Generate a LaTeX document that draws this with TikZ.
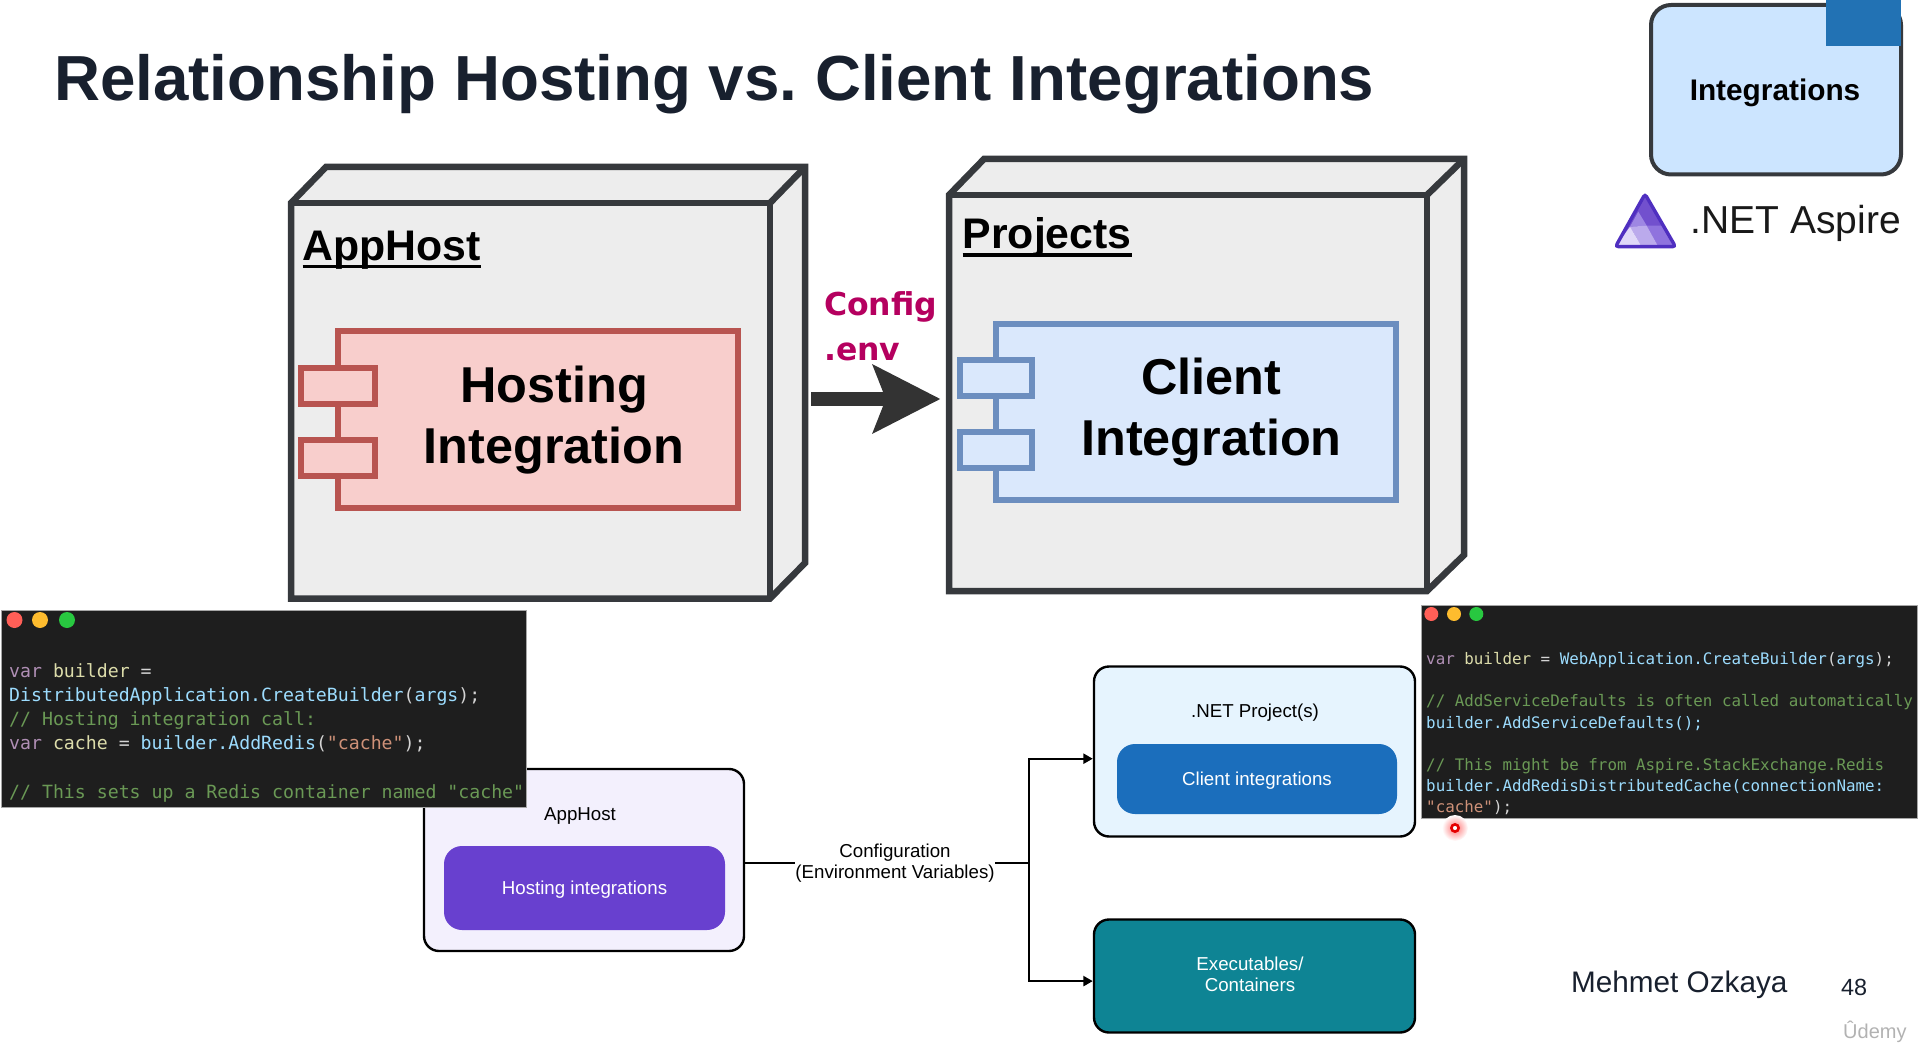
\documentclass[tikz,border=0pt]{standalone}
\usepackage{fontspec}
\setmainfont{Liberation Sans}
\setmonofont{DejaVu Sans Mono}
\newfontfamily\configfont{DejaVu Sans}
\usetikzlibrary{arrows.meta}
\frenchspacing

\definecolor{cubeline}{HTML}{36393D}
\definecolor{redline}{HTML}{B85450}
\definecolor{redfill}{HTML}{F8CECC}
\definecolor{blueline}{HTML}{6C8EBF}
\definecolor{bluefill}{HTML}{DAE8FC}
\definecolor{titleink}{HTML}{18202E}
\definecolor{legendfill}{HTML}{CCE5FF}
\definecolor{hostfill}{HTML}{F3F0FD}
\definecolor{netfill}{HTML}{E6F4FE}
\definecolor{codebg}{HTML}{1E1E1E}
\definecolor{codekw}{HTML}{B08FB5}
\definecolor{codevar}{HTML}{DCDCAA}
\definecolor{codeid}{HTML}{9CDCFE}
\definecolor{codecom}{HTML}{6A9955}
\definecolor{codestr}{HTML}{CE9178}
\definecolor{codepun}{HTML}{D4D4D4}

\newcommand{\kw}[1]{\textcolor{codekw}{#1}}
\newcommand{\vr}[1]{\textcolor{codevar}{#1}}
\newcommand{\cid}[1]{\textcolor{codeid}{#1}}
\newcommand{\com}[1]{\textcolor{codecom}{#1}}
\newcommand{\str}[1]{\textcolor{codestr}{#1}}
\newcommand{\pun}[1]{\textcolor{codepun}{#1}}
\newcommand{\heading}[1]{\setbox0=\hbox{#1}\rlap{\rule[-7.6pt]{\wd0}{3.3pt}}\box0}

\begin{document}
\begin{tikzpicture}[x=1pt,y=-1pt,
  cube/.style={draw=cubeline,line width=6.5pt,line join=miter},
  redpart/.style={draw=redline,fill=redfill,line width=6pt},
  bluepart/.style={draw=blueline,fill=bluefill,line width=6pt},
  txt/.style={inner sep=0pt,anchor=base west},
  ctr/.style={inner sep=0pt,anchor=base,align=center},
  partfont/.style={font=\fontsize{50.4}{61}\selectfont\bfseries},
  headfont/.style={font=\fontsize{42.8}{50}\selectfont\bfseries},
  small/.style={font=\fontsize{18.7}{21}\selectfont},
  panel/.style={draw=black,line width=2.4pt,rounded corners=15pt,inner sep=0pt},
  inner/.style={rounded corners=18pt,inner sep=0pt,text=white,text depth=0pt},
  codepanel/.style={draw=gray!70,line width=.8pt,fill=codebg,inner sep=0pt},
  codeA/.style={txt,font=\fontsize{18.2}{21}\selectfont\ttfamily},
  codeB/.style={txt,font=\fontsize{15.85}{19}\selectfont\ttfamily},
  link/.style={draw=black,line width=2.4pt},
  linkarrow/.style={link,-{Triangle[length=9.5pt,width=10pt]}},
]
\useasboundingbox (0,0) rectangle (1919,1048);

% title
\node[txt,text=titleink,font=\fontsize{63.7}{70}\selectfont\bfseries] (title) at (54,100.5) {Relationship Hosting vs. Client Integrations};

% legend, top right
\draw[draw=cubeline,line width=4pt,fill=legendfill,rounded corners=20pt] (1651,5) rectangle (1901,174.5);
\fill[fill={rgb,255:red,34;green,114;blue,180}] (1826,0) rectangle (1901,45.7);
\node[ctr,font=\fontsize{29.8}{34}\selectfont\bfseries] (legend) at (1775,101) {Integrations};

\begin{scope}
\clip[rounded corners=3pt] (1645,194)--(1615.5,246.7)--(1675.5,246.7)--cycle;
\fill[fill={rgb,255:red,114;green,80;blue,206}] (1610,190) rectangle (1680,250);
\fill[fill={rgb,255:red,158;green,135;blue,227}] (1638.3,211.7)--(1646.7,225.7)--(1630,226.7)--cycle;
\fill[fill={rgb,255:red,143;green,115;blue,222}] (1646.7,225.7)--(1665,225.7)--(1675.7,246.7)--(1658.3,246.7)--cycle;
\fill[fill={rgb,255:red,187;green,170;blue,236}] (1630,226.7)--(1646.7,225.7)--(1658.3,246.7)--(1641.7,246.7)--cycle;
\fill[fill={rgb,255:red,224;green,216;blue,248}] (1630,226.7)--(1641.7,246.7)--(1615.5,246.7)--cycle;
\end{scope}
\draw[draw={rgb,255:red,79;green,47;blue,192},line width=3.4pt,rounded corners=3pt] (1645,194)--(1615.5,246.7)--(1675.5,246.7)--cycle;
\node[txt,font=\fontsize{39}{44}\selectfont,text=black!90] (aspire) at (1690.5,233.5) {.NET Aspire};

% AppHost cube
\draw[cube,fill=black!7] (291,203)--(326,167)--(805,167)--(805,563)--(770,598.5)--(291,598.5)--cycle;
\draw[cube] (291,203)--(770,203)--(770,598.5);
\draw[cube] (770,203)--(805,167);
\node[txt,headfont] (apphost) at (302.5,260.5) {\heading{AppHost}};

\draw[redpart] (338,331.5) rectangle (738,508);
\draw[redpart] (301,368) rectangle (375,404);
\draw[redpart] (301,439.5) rectangle (375,476);
\node[ctr,partfont] (hosting) at (554,463) {Hosting\\Integration};

% Projects cube
\draw[cube,fill=black!7] (949,195)--(984,159)--(1464,159)--(1464,555)--(1427,591)--(949,591)--cycle;
\draw[cube] (949,195)--(1427,195)--(1427,591);
\draw[cube] (1427,195)--(1464,159);
\node[txt,headfont] (projects) at (962.5,249) {\heading{Projects}};

\draw[bluepart] (995.5,324) rectangle (1395.5,500);
\draw[bluepart] (959.5,360) rectangle (1032,396);
\draw[bluepart] (959.5,432) rectangle (1032,468);
\node[ctr,partfont] (client) at (1211.5,455) {Client\\Integration};

% arrow between the cubes
\node[txt,font=\fontsize{31.5}{36}\selectfont\bfseries\configfont,text={rgb,255:red,181;green,0;blue,95}] (config) at (824,316) {Config};
\node[txt,font=\fontsize{31.5}{36}\selectfont\bfseries\configfont,text={rgb,255:red,181;green,0;blue,95}] (env) at (824,360) {.env};
\coordinate (flowstart) at (811,399);
\coordinate (flowend) at (940.5,399);
\draw[draw=black!80,line width=14pt,-{Stealth[length=67pt,width=67pt,inset=12.4pt]}] (flowstart) -- (flowend);

% lower diagram
\node[panel,fill=hostfill,minimum width=320pt,minimum height=182pt] (hostbox) at (584,860) {};
\node[ctr,small] (hostname) at (580,820) {AppHost};
\node[inner,fill={rgb,255:red,104;green,64;blue,207},small,minimum width=281pt,minimum height=84pt] (hostint) at (584.5,888) {Hosting integrations};

\node[panel,fill=netfill,minimum width=321pt,minimum height=170pt] (netbox) at (1254.5,751.5) {};
\node[ctr,small] (netname) at (1255,717) {.NET Project(s)};
\node[inner,fill={rgb,255:red,27;green,110;blue,188},small,minimum width=280pt,minimum height=70pt] (clientint) at (1257,779) {Client integrations};

\node[panel,fill={rgb,255:red,14;green,132;blue,148},minimum width=321pt,minimum height=113pt] (exebox) at (1254.5,976) {};
\node[ctr,small,text=white] (exename) at (1250,991) {Executables/\\Containers};

\coordinate (split) at (1029,863);
\draw[link] (hostbox.east |- split) -- (split);
\draw[linkarrow] (split) |- ([yshift=-7.2pt]netbox.west);
\draw[linkarrow] (split) |- ([yshift=-5.1pt]exebox.west);
\node[ctr,small,fill=white] (cfg) at (895,878) {Configuration\\(Environment Variables)};

% code, left
\node[codepanel,minimum width=525pt,minimum height=197pt] (codeleft) at (263.5,708.5) {};
\fill[fill={rgb,255:red,255;green,95;blue,87}] (14.5,620) circle (8);
\fill[fill={rgb,255:red,254;green,188;blue,46}] (40,620) circle (8);
\fill[fill={rgb,255:red,40;green,200;blue,64}] (67,620) circle (8);
\node[codeA] (la) at (9,677) {\kw{var} \vr{builder} \pun{=}};
\node[codeA] (lb) at (9,701) {\cid{DistributedApplication.CreateBuilder}\pun{(}\cid{args}\pun{);}};
\node[codeA] (lc) at (9,725) {\com{// Hosting integration call:}};
\node[codeA] (ld) at (9,749) {\kw{var} \vr{cache} \pun{=} \cid{builder.AddRedis}\pun{(}\str{"cache"}\pun{);}};
\node[codeA] (le) at (9,798) {\com{// This sets up a Redis container named "cache"}};

% code, right
\node[codepanel,minimum width=496pt,minimum height=213pt] (coderight) at (1669,711.5) {};
\fill[fill={rgb,255:red,255;green,95;blue,87}] (1431.3,614) circle (7);
\fill[fill={rgb,255:red,254;green,188;blue,46}] (1454,614) circle (7);
\fill[fill={rgb,255:red,40;green,200;blue,64}] (1476.3,614) circle (7);
\node[codeB] (ra) at (1426,664.5) {\kw{var} \vr{builder} \pun{=} \cid{WebApplication.CreateBuilder}\pun{(}\cid{args}\pun{);}};
\node[codeB] (rb) at (1426,706.5) {\com{// AddServiceDefaults is often called automatically}};
\node[codeB] (rc) at (1426,728) {\cid{builder.AddServiceDefaults();}};
\node[codeB] (rd) at (1426,770) {\com{// This might be from Aspire.StackExchange.Redis}};
\node[codeB] (re) at (1426,791.5) {\cid{builder.AddRedisDistributedCache(connectionName:}};
\node[codeB] (rf) at (1426,812) {\str{"cache"}\pun{);}};

% pointer
\shade[inner color=red!55,outer color=white] (1455,828) circle (13);
\draw[draw=red!90!black,line width=2.6pt,fill=white] (1455,828) circle (3.6);

% footer
\node[txt,font=\fontsize{29.7}{34}\selectfont,text=titleink] (author) at (1571,992) {Mehmet Ozkaya};
\node[txt,font=\fontsize{23.4}{28}\selectfont,text=titleink] (page) at (1841,995) {48};
\node[txt,font=\fontsize{20}{24}\selectfont,text=black!30] (mark) at (1843,1038) {Ûdemy};

\end{tikzpicture}
\end{document}
